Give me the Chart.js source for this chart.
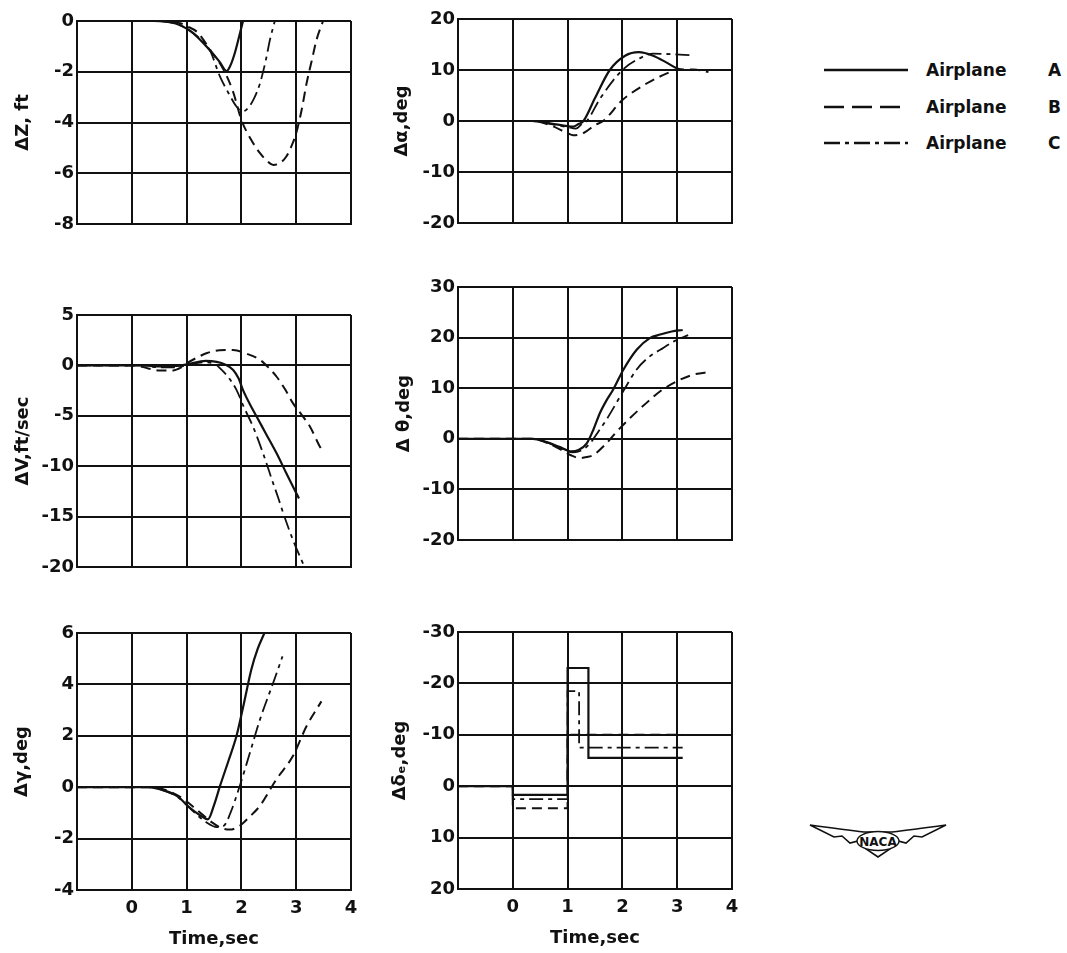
<!DOCTYPE html>
<html>
<head>
<meta charset="utf-8">
<script src="https://cdn.jsdelivr.net/npm/chart.js@4.4.1/dist/chart.umd.min.js"></script>
<style>
  body { margin: 0; background: #fff; width: 1067px; height: 953px; position: relative; overflow: hidden;
         font-family: "DejaVu Sans", sans-serif; color: #111; }
  canvas { position: absolute; }
  .leg { position: absolute; left: 822px; height: 20px; font-weight: bold; font-size: 17px; }
  .leg svg { position: absolute; left: 0; top: 4px; }
  .leg .nm { position: absolute; left: 104px; top: -2px; }
  .leg .id { position: absolute; left: 226px; top: -2px; }
  #naca { position: absolute; left: 808px; top: 822px; }
</style>
</head>
<body>
<div id="legend"></div>
<svg id="naca" width="140" height="38" viewBox="0 0 140 38">
  <path d="M2,3 Q38,8 56,10 L84,10 Q102,8 138,3 L114,15 L106,14 L98,21 L90,19 L82,27 L70,35 L58,27 L50,19 L42,21 L34,14 L26,15 Z"
        fill="#fff" stroke="#111" stroke-width="1.6"/>
  <ellipse cx="70" cy="19" rx="21" ry="9.5" fill="#fff" stroke="#111" stroke-width="1.4"/>
  <text x="70" y="24" text-anchor="middle" font-family="DejaVu Sans" font-weight="bold" font-size="12" fill="#111">NACA</text>
</svg>
<script>
// airplanes and time axis
const airplanes = ['A', 'B', 'C'];
const xTicks = [-1, 0, 1, 2, 3, 4];

// ΔZ, ft
const dzTicks = [0, -2, -4, -6, -8];
const dzA = [[-1,0],[0.4,0],[0.6,-0.02],[0.8,-0.1],[1.0,-0.3],[1.12,-0.48],[1.42,-1.14],[1.6,-1.6],[1.73,-1.97],[1.8,-1.75],[1.88,-1.26],[1.96,-0.6],[2.03,0]];
const dzB = [[-1,0],[0.5,0],[0.7,-0.02],[0.9,-0.1],[1.0,-0.2],[1.2,-0.45],[1.45,-1.2],[1.67,-1.9],[1.85,-2.8],[2.0,-3.9],[2.17,-4.65],[2.34,-5.21],[2.46,-5.5],[2.58,-5.67],[2.7,-5.6],[2.82,-5.34],[2.91,-4.95],[3.0,-4.42],[3.1,-3.5],[3.19,-2.45],[3.28,-1.6],[3.37,-0.75],[3.49,0]];
const dzC = [[-1,0],[0.4,0],[0.6,-0.02],[0.8,-0.1],[1.0,-0.3],[1.12,-0.48],[1.42,-1.14],[1.61,-2.19],[1.78,-2.9],[1.91,-3.37],[2.02,-3.55],[2.09,-3.5],[2.22,-3.1],[2.34,-2.45],[2.45,-1.5],[2.52,-0.75],[2.61,0]];

// ΔV, ft/sec
const dvTicks = [5, 0, -5, -10, -15, -20];
const dvA = [[-1,0],[0.2,0],[0.5,-0.1],[0.8,-0.05],[1.0,0.1],[1.35,0.45],[1.55,0.35],[1.7,0.1],[1.85,-0.45],[1.95,-1.3],[2.03,-2.45],[2.15,-3.8],[2.28,-5.1],[2.45,-6.8],[2.64,-8.7],[2.82,-10.7],[3.0,-12.65],[3.05,-13.2]];
const dvB = [[-1,0],[0.05,0],[0.3,-0.3],[0.5,-0.5],[0.75,-0.5],[0.9,-0.2],[1.0,0.2],[1.2,0.8],[1.36,1.2],[1.6,1.5],[1.85,1.53],[2.1,1.15],[2.34,0.55],[2.5,-0.25],[2.64,-1.1],[2.8,-2.4],[2.94,-3.74],[3.1,-4.9],[3.25,-6.06],[3.43,-8.04],[3.47,-8.4]];
const dvC = [[-1,0],[0.2,0],[0.5,-0.2],[0.8,-0.2],[1.0,0],[1.3,0.3],[1.5,0.2],[1.64,-0.45],[1.78,-1.3],[1.91,-2.43],[2.05,-4.2],[2.21,-6.05],[2.4,-8.8],[2.58,-11.7],[2.67,-13.1],[2.76,-14.6],[2.94,-17.3],[3.16,-20.1]];

// Δγ, deg
const dgTicks = [6, 4, 2, 0, -2, -4];
const dgA = [[-1,0],[0.3,0],[0.51,-0.08],[0.82,-0.34],[1.06,-0.8],[1.25,-1.1],[1.39,-1.25],[1.5,-0.7],[1.61,0.05],[1.76,1.0],[1.91,1.99],[2.05,3.3],[2.18,4.57],[2.3,5.4],[2.42,6.0]];
const dgB = [[-1,0],[0.35,0],[0.6,-0.1],[0.9,-0.4],[1.2,-0.9],[1.45,-1.35],[1.65,-1.6],[1.79,-1.65],[1.97,-1.5],[2.15,-1.15],[2.34,-0.72],[2.64,0.31],[2.94,1.21],[3.19,2.38],[3.46,3.34]];
const dgC = [[-1,0],[0.3,0],[0.55,-0.1],[0.85,-0.4],[1.1,-0.9],[1.35,-1.35],[1.55,-1.55],[1.68,-1.5],[1.8,-1.0],[1.97,0.05],[2.15,1.3],[2.34,2.64],[2.58,4.06],[2.75,5.09]];

// Δα, deg
const daTicks = [20, 10, 0, -10, -20];
const daA = [[-1,0],[0.35,0],[0.7,-0.5],[1.0,-1.0],[1.1,-1.1],[1.2,-0.6],[1.29,0],[1.5,4.5],[1.77,10],[2.05,12.8],[2.3,13.5],[2.56,12.8],[2.8,11.5],[3.0,10.3],[3.1,10]];
const daB = [[-1,0],[0.35,0],[0.7,-0.9],[1.0,-2.4],[1.1,-2.8],[1.3,-2.3],[1.5,-0.8],[1.65,0],[2.0,4.1],[2.45,7.4],[2.87,9.6],[3.0,10.1],[3.3,10.1],[3.57,9.6]];
const daC = [[-1,0],[0.35,0],[0.7,-0.6],[1.0,-1.2],[1.15,-1.5],[1.25,-0.7],[1.35,0],[1.6,4.5],[2.0,10],[2.3,12.2],[2.56,13.2],[2.9,13.1],[3.24,12.9]];

// Δθ, deg
const dthTicks = [30, 20, 10, 0, -10, -20];
const dthA = [[-1,0],[0.37,0],[0.6,-0.6],[0.85,-1.6],[1.07,-2.5],[1.2,-2.2],[1.35,-0.9],[1.47,1.8],[1.59,5.1],[1.71,7.6],[1.83,9.7],[2.02,13.7],[2.26,17.6],[2.5,19.9],[2.69,20.6],[2.9,21.2],[3.1,21.5]];
const dthB = [[-1,0],[0.37,0],[0.6,-0.7],[0.85,-2.0],[1.05,-3.2],[1.22,-3.8],[1.35,-3.6],[1.47,-3.2],[1.7,-1.0],[1.9,1.45],[2.14,4.1],[2.44,7.1],[2.69,9.4],[3.0,11.4],[3.3,12.7],[3.6,13.2]];
const dthC = [[-1,0],[0.37,0],[0.6,-0.6],[0.85,-1.7],[1.1,-2.7],[1.25,-2.3],[1.41,-0.9],[1.56,1.4],[1.71,3.8],[2.02,9.5],[2.26,13.7],[2.5,16.3],[2.69,17.6],[2.95,19.3],[3.2,20.5]];

// Δδe, deg (step inputs)
const deTicks = [-30, -20, -10, 0, 10, 20];
const deA = [[-1,0],[0,0],[0,1.7],[1.0,1.7],[1.0,-23],[1.38,-23],[1.38,-5.5],[3.1,-5.5]];
const deB = [[-1,0],[0,0],[0,4.3],[1.0,4.3],[1.0,-10],[3.1,-10]];
const deC = [[-1,0],[0,0],[0,2.5],[1.0,2.5],[1.0,-18.5],[1.21,-18.5],[1.21,-7.5],[3.1,-7.5]];

const INK = '#111';
const dashes = [[], [10, 6], [14, 5, 4, 5]];
const widths = [2.2, 2, 1.8];
const legendDashes = ['', '20 8', '16 5 4 5'];

const Y_W = 70, PAD_T = 14, PAD_R = 10;
const tickFont = { family: 'DejaVu Sans', size: 18, weight: 'bold' };
const titleFont = { family: 'DejaVu Sans', size: 18, weight: 'bold' };

const panels = [
  { left: 77,  top: 21,  w: 274, h: 203, ticks: dzTicks,  title: 'ΔZ, ft',    pad: 6, series: [dzA, dzB, dzC] },
  { left: 77,  top: 315, w: 274, h: 252, ticks: dvTicks,  title: 'ΔV,ft/sec', pad: 6, series: [dvA, dvB, dvC] },
  { left: 77,  top: 633, w: 274, h: 257, ticks: dgTicks,  title: 'Δγ,deg',    pad: 5, series: [dgA, dgB, dgC], bottom: true },
  { left: 458, top: 19,  w: 274, h: 204, ticks: daTicks,  title: 'Δα,deg',    pad: 4, series: [daA, daB, daC] },
  { left: 458, top: 287, w: 274, h: 253, ticks: dthTicks, title: 'Δ θ,deg',   pad: 6, series: [dthA, dthB, dthC] },
  { left: 458, top: 632, w: 274, h: 257, ticks: deTicks,  title: 'Δδₑ,deg',   pad: 2, series: [deA, deB, deC], bottom: true, reverse: true, steps: true },
];

function makePanel(p) {
  const bottomH = p.bottom ? 64 : 14;
  const cv = document.createElement('canvas');
  cv.width = Y_W + p.w + PAD_R;
  cv.height = PAD_T + p.h + bottomH;
  cv.style.left = (p.left - Y_W) + 'px';
  cv.style.top = (p.top - PAD_T) + 'px';
  document.body.appendChild(cv);

  new Chart(cv, {
    type: 'line',
    data: {
      datasets: p.series.map((pts, i) => ({
        label: 'Airplane ' + airplanes[i],
        data: pts.map(([x, y]) => ({ x, y })),
        borderColor: INK,
        borderWidth: widths[i],
        borderDash: dashes[i],
        pointRadius: 0,
        fill: false,
        tension: 0,
        cubicInterpolationMode: p.steps ? 'default' : 'monotone',
      })),
    },
    options: {
      responsive: false,
      animation: false,
      devicePixelRatio: 1,
      layout: { padding: { top: PAD_T, right: PAD_R, left: 0, bottom: 0 } },
      plugins: { legend: { display: false }, tooltip: { enabled: false } },
      scales: {
        x: {
          type: 'linear', min: -1, max: 4,
          afterBuildTicks: s => { s.ticks = xTicks.map(v => ({ value: v })); },
          // keep the plot box fixed: labels may overhang into the padding
          afterFit: s => { s.height = bottomH; s.paddingLeft = 0; s.paddingRight = 0; },
          grid: { color: INK, lineWidth: 2, drawTicks: false },
          border: { color: INK, width: 2 },
          ticks: { display: !!p.bottom, padding: 8, color: INK, font: tickFont, autoSkip: false,
                   maxRotation: 0, callback: v => (v < 0 ? '' : String(v)) },
          title: { display: !!p.bottom, text: 'Time,sec', color: INK, font: titleFont, padding: { top: 0, bottom: 4 } },
        },
        y: {
          type: 'linear', reverse: !!p.reverse,
          min: Math.min(...p.ticks), max: Math.max(...p.ticks),
          afterBuildTicks: s => { s.ticks = p.ticks.map(v => ({ value: v })); },
          afterFit: s => { s.width = Y_W; },
          grid: { color: INK, lineWidth: 2, drawTicks: false },
          border: { color: INK, width: 2 },
          ticks: { padding: 3, color: INK, font: tickFont, autoSkip: false, callback: v => String(v) },
          title: { display: true, text: p.title, color: INK, font: titleFont, padding: { top: p.pad, bottom: 0 } },
        },
      },
    },
  });
}

panels.forEach(makePanel);

// legend built from the series names
const legend = document.getElementById('legend');
const legendRows = [62, 99, 135];
airplanes.forEach((a, i) => {
  const row = document.createElement('div');
  row.className = 'leg';
  row.style.top = legendRows[i] + 'px';
  row.innerHTML =
    `<svg width="86" height="8"><line x1="2" y1="4" x2="86" y2="4" stroke="${INK}" stroke-width="2.6"` +
    (legendDashes[i] ? ` stroke-dasharray="${legendDashes[i]}"` : '') + `/></svg>` +
    `<span class="nm">Airplane</span><span class="id">${a}</span>`;
  legend.appendChild(row);
});
</script>
</body>
</html>
